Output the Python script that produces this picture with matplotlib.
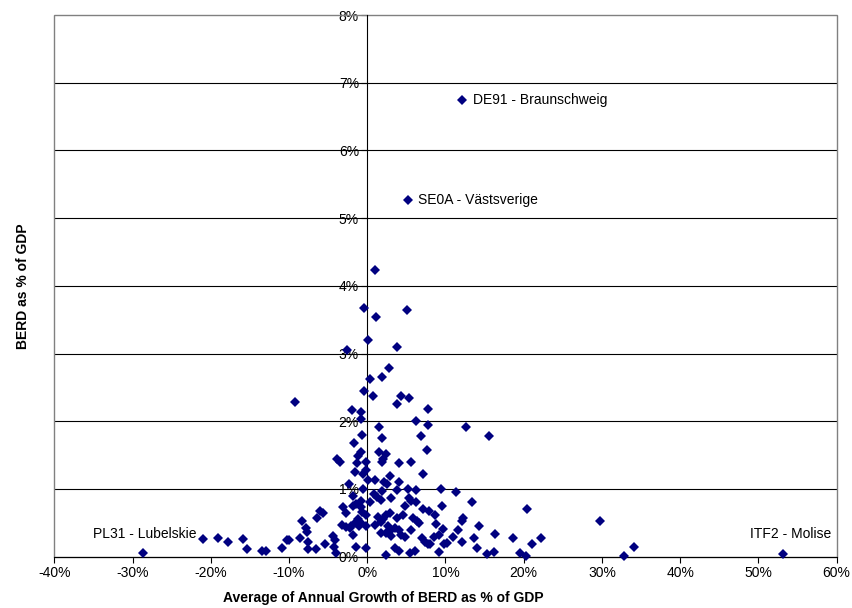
import matplotlib
matplotlib.use('Agg')
import matplotlib.pyplot as plt
from matplotlib.patches import Rectangle
from matplotlib.ticker import FuncFormatter

plt.rcParams['font.family'] = ['Liberation Sans', 'DejaVu Sans']

# average annual growth of BERD (%) and BERD as % of GDP
growth = [0.98, -0.43, 5.1, 1.06, 0.13, -2.55, 3.78, 2.8, 1.87, 0.38, -0.43, 0.72, 4.34, 5.4, 3.78, -9.27, 7.78,
          -1.91, -0.77, -0.77, 1.49, 6.17, 7.78, 12.67, 15.56, -0.68, 1.91, 6.89, -1.74, -0.85, 1.49, 2.42, 7.65,
          -1.15, -1.36, 1.96, 1.87, -3.83, -3.53, -0.21, 4.0, 5.65, -1.57, -0.21, -0.51, 7.1, 2.89, 0.09, 1.02,
          2.13, 4.0, 2.5, -2.34, -0.6, 1.87, 3.78, 5.27, 6.29, 9.44, 11.35, -1.83, 0.81, 1.28, -0.85, 0.3, 1.79,
          3.02, 5.4, 5.61, 6.25, 4.89, 13.39, 9.57, -3.1, -1.79, -1.49, -0.77, -6.08, -5.66, -6.42, -2.72, -0.64,
          -0.13, 2.93, 7.1, 7.95, 8.63, 3.83, 4.51, 5.82, 6.34, 6.59, 12.2, 12.07, -8.29, 1.36, 1.99, 2.34, 1.79,
          -1.19, -0.85, -1.53, -3.19, -2.68, -2.21, -2.04, -1.06, -0.21, 1.02, 2.64, 3.61, -7.87, -7.66, 9.65,
          8.84, 11.56, 14.33, 16.33, 2.85, 4.12, 5.61, 1.79, 2.34, 2.68, 4.29, -1.87, 3.02, 4.85, 7.06, 8.59,
          9.14, 10.9, 13.6, -8.59, -4.42, -4.12, -7.53, 7.32, 7.74, 8.04, 9.86, 10.2, 12.07, -5.4, -7.57, -6.59,
          -4.29, -1.4, -0.21, 3.57, 4.0, 5.53, 6.12, 9.23, 14.0, 15.35, 16.16, 2.34, -3.95,
          -28.7, -21.05, -19.1, -17.8, -15.9, -15.4, -13.5, -13.0, -10.9, -10.3, -10.0,
          20.4, 29.8, 18.6, 22.2, 21.1, 19.5, 20.3, 32.8, 34.1, 53.2,
          12.17, 5.23]
berd = [4.23, 3.67, 3.65, 3.54, 3.2, 3.05, 3.10, 2.78, 2.65, 2.62, 2.44, 2.37, 2.37, 2.35, 2.26, 2.28, 2.18,
        2.16, 2.13, 2.04, 1.92, 2.0, 1.94, 1.92, 1.78, 1.79, 1.75, 1.78, 1.68, 1.55, 1.55, 1.52, 1.58,
        1.48, 1.38, 1.45, 1.40, 1.45, 1.40, 1.40, 1.38, 1.40, 1.25, 1.28, 1.22, 1.22, 1.19, 1.13, 1.13,
        1.11, 1.10, 1.07, 1.07, 1.0, 0.97, 0.99, 1.0, 0.99, 1.0, 0.96, 0.89, 0.93, 0.88, 0.82, 0.81, 0.84,
        0.87, 0.86, 0.82, 0.81, 0.75, 0.81, 0.75, 0.73, 0.75, 0.78, 0.74, 0.67, 0.64, 0.57, 0.64, 0.66,
        0.62, 0.65, 0.70, 0.68, 0.62, 0.57, 0.61, 0.57, 0.52, 0.50, 0.57, 0.53, 0.53, 0.58, 0.56, 0.61, 0.51,
        0.55, 0.50, 0.50, 0.47, 0.44, 0.43, 0.45, 0.45, 0.45, 0.47, 0.45, 0.43, 0.43, 0.37, 0.41,
        0.49, 0.39, 0.45, 0.34, 0.38, 0.39, 0.40, 0.35, 0.35, 0.37, 0.32, 0.32, 0.30, 0.29, 0.27, 0.29,
        0.32, 0.29, 0.27, 0.27, 0.30, 0.25, 0.21, 0.21, 0.19, 0.19, 0.19, 0.20, 0.21, 0.18, 0.11, 0.11,
        0.15, 0.15, 0.13, 0.13, 0.09, 0.05, 0.09, 0.07, 0.13, 0.04, 0.07, 0.02, 0.05,
        0.06, 0.26, 0.27, 0.21, 0.26, 0.11, 0.09, 0.09, 0.13, 0.24, 0.24,
        0.70, 0.52, 0.27, 0.27, 0.18, 0.06, 0.01, 0.01, 0.14, 0.04,
        6.75, 5.27]

labels = ['DE91 - Braunschweig', 'SE0A - Västsverige', 'PL31 - Lubelskie', 'ITF2 - Molise']
label_x = [13.5, 6.5, -35.0, 59.3]
label_y = [6.75, 5.27, 0.33, 0.34]
label_ha = ['left', 'left', 'left', 'right']

fig = plt.figure(figsize=(8.52, 6.08), dpi=100)
ax = fig.add_axes([0.0637, 0.0844, 0.9183, 0.8909])

ax.set_xlim(-40, 60)
ax.set_ylim(0, 8)

for yy in range(1, 8):
    ax.axhline(yy, color='black', lw=0.8, zorder=1)

ax.plot(growth, berd, 'D', color='#000080', ms=4.8, mew=0, zorder=3, clip_on=False)

for t, lx, ly, ha in zip(labels, label_x, label_y, label_ha):
    ax.text(lx, ly, t, ha=ha, va='center', fontsize=10, zorder=4)

ax.add_patch(Rectangle((0, 0), 1, 1, transform=ax.transAxes, fill=False,
                       edgecolor='#808080', lw=1, zorder=2, clip_on=False))

ax.spines['top'].set_visible(False)
ax.spines['right'].set_visible(False)
ax.spines['left'].set_position(('data', 0))
ax.spines['left'].set_color('black')
ax.spines['left'].set_linewidth(0.8)
ax.spines['bottom'].set_linewidth(0.8)

ax.set_xticks(range(-40, 61, 10))
ax.set_yticks(range(0, 9))
pct = FuncFormatter(lambda v, p: '%d%%' % v)
ax.xaxis.set_major_formatter(pct)
ax.yaxis.set_major_formatter(pct)
ax.tick_params(axis='both', labelsize=10, length=4, width=0.8, direction='out')
ax.tick_params(axis='y', pad=2)
ax.tick_params(axis='x', pad=3)

fig.text(383 / 852, 1 - 598 / 608, 'Average of Annual Growth of BERD as % of GDP',
         ha='center', va='center', fontsize=10, fontweight='bold')
fig.text(23 / 852, 1 - 286 / 608, 'BERD as % of GDP', ha='center', va='center',
         rotation=90, fontsize=10, fontweight='bold')

fig.savefig('out.png', dpi=100)
